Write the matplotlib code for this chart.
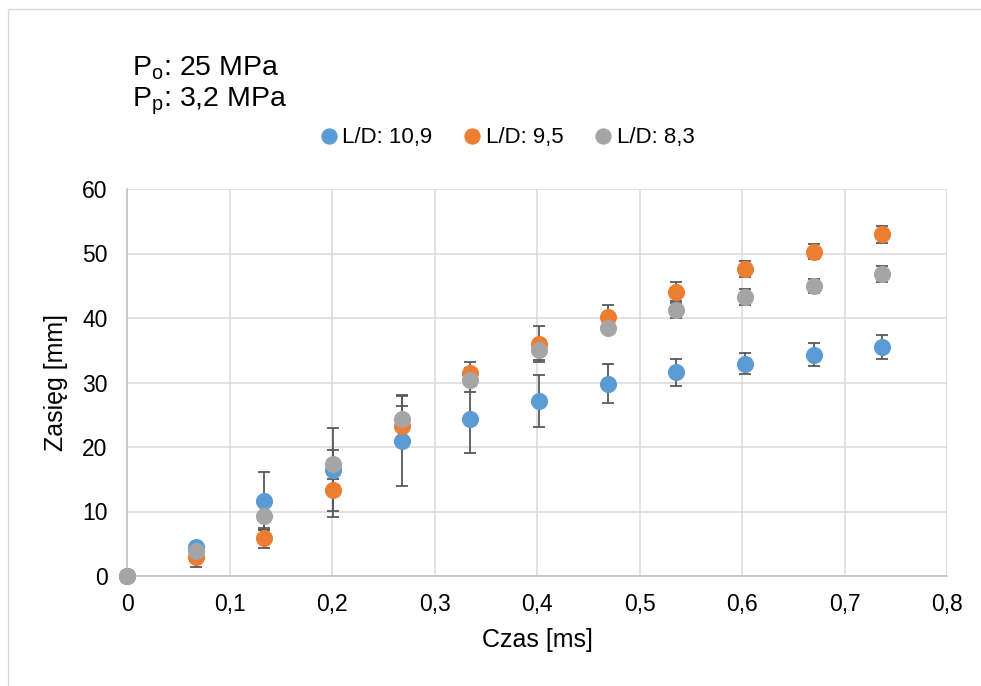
import numpy as np
import matplotlib
matplotlib.use('Agg')
import matplotlib.pyplot as plt
from matplotlib.patches import Rectangle

plt.rcParams['font.family'] = ['Liberation Sans', 'DejaVu Sans']
plt.rcParams['mathtext.fontset'] = 'custom'
plt.rcParams['mathtext.rm'] = 'Liberation Sans'

# Czas [ms]
czas = [0, 0.067, 0.134, 0.201, 0.268, 0.335, 0.402, 0.469, 0.536, 0.603, 0.670, 0.737]

# L/D: 10,9
zasieg_109 = [0, 4.5, 11.6, 16.5, 21.0, 24.3, 27.1, 29.8, 31.6, 32.9, 34.3, 35.5]
blad_109 = [0, 0.6, 4.5, 6.4, 7.0, 5.3, 4.0, 3.0, 2.1, 1.6, 1.75, 1.9]

# L/D: 9,5
zasieg_95 = [0, 2.9, 5.9, 13.4, 23.3, 31.4, 36.0, 40.1, 44.1, 47.6, 50.3, 53.0]
blad_95 = [0, 1.45, 1.5, 4.3, 3.0, 1.8, 2.8, 1.9, 1.5, 1.25, 1.2, 1.3]

# L/D: 8,3
zasieg_83 = [0, 3.9, 9.3, 17.3, 24.4, 30.4, 35.0, 38.4, 41.2, 43.2, 45.0, 46.8]
blad_83 = [0, 0.8, 2.2, 2.3, 3.5, 1.8, 1.5, 0.8, 1.2, 1.25, 1.05, 1.2]

nazwy = ['L/D: 10,9', 'L/D: 9,5', 'L/D: 8,3']
kolory = ['#5B9BD5', '#ED7D31', '#A5A5A5']
x_ticks = [0, 0.1, 0.2, 0.3, 0.4, 0.5, 0.6, 0.7, 0.8]
y_ticks = [0, 10, 20, 30, 40, 50, 60]

W, H = 981, 686
fig = plt.figure(figsize=(W / 100, H / 100), dpi=100)
ax = fig.add_axes([127 / W, 1 - 576 / H, (947 - 127) / W, (576 - 189) / H])

# ramka wokol wykresu
fig.patches.append(Rectangle((8 / W, -0.05), 1.1, 1 - 9 / H + 0.05, transform=fig.transFigure,
                             fill=False, edgecolor='#D9D9D9', linewidth=1.0))

serie = [(zasieg_109, blad_109), (zasieg_95, blad_95), (zasieg_83, blad_83)]
for (y, e), kolor, nazwa in zip(serie, kolory, nazwy):
    ax.errorbar(czas, y, yerr=e, fmt='none', ecolor='#595959', elinewidth=1.3,
                capsize=4.5, capthick=1.3, zorder=3, clip_on=False)
    ax.plot(czas, y, 'o', color=kolor, markersize=11.5, markeredgewidth=0.8,
            label=nazwa, zorder=4, clip_on=False)

ax.set_xlim(0, 0.8)
ax.set_ylim(0, 60)
ax.set_xticks(x_ticks)
ax.set_yticks(y_ticks)
ax.set_xticklabels([('%g' % t).replace('.', ',') for t in x_ticks])
ax.set_yticklabels([str(t) for t in y_ticks])
ax.tick_params(length=0, labelsize=16.5, colors='black')
ax.tick_params(axis='y', pad=14)
ax.tick_params(axis='x', pad=12)
ax.grid(True, color='#D9D9D9', linewidth=1.1, zorder=0)
ax.set_axisbelow(True)
for s in ['top', 'right']:
    ax.spines[s].set_visible(False)
for s in ['left', 'bottom']:
    ax.spines[s].set_color('#BFBFBF')
    ax.spines[s].set_linewidth(1.1)

ax.set_xlabel('Czas [ms]', fontsize=18, labelpad=9)
ax.set_ylabel('Zasięg [mm]', fontsize=18, labelpad=10)

fig.text(132 / W, 1 - 75 / H, r'P$_\mathregular{o}$: 25 MPa', fontsize=20.5, va='baseline')
fig.text(132 / W, 1 - 106 / H, r'P$_\mathregular{p}$: 3,2 MPa', fontsize=20.5, va='baseline')

fig.legend(loc='center', bbox_to_anchor=(505 / W, 1 - 138 / H), ncol=3, frameon=False,
           fontsize=16, handletextpad=0.0, columnspacing=1.2, markerscale=0.95,
           handlelength=1.2)

fig.savefig('out.png', dpi=100)
